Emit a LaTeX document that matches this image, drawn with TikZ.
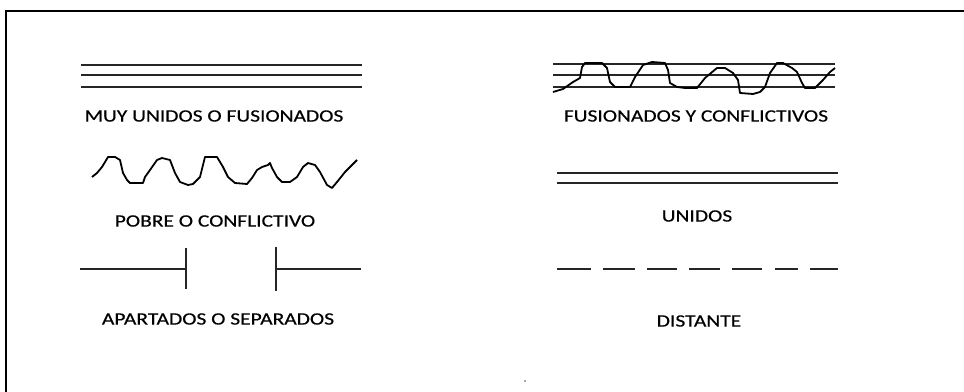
\documentclass[tikz,border=0pt]{standalone}
\usepackage{fontspec}
\setmainfont{Carlito}
\newfontfamily\lblfont{Carlito}[FakeBold=0.4]
\newcommand{\wlbl}[1]{\scalebox{1.24}[1]{#1}}
\begin{document}
\begin{tikzpicture}[x=0.75pt,y=-0.75pt,
  lbl/.style={font=\lblfont\fontsize{13}{15}\selectfont, text=black, inner sep=0pt},
  rel/.style={line width=1.1pt, draw=black!85},
  wave/.style={line width=1.35pt, draw=black, line join=round}]
\useasboundingbox (0,0) rectangle (964,392);
\fill[white] (0,0) rectangle (964,392);
% frame
\draw[line width=1.3pt] (6,392) -- (6,11) -- (964,11);

% MUY UNIDOS O FUSIONADOS
\draw[rel] (81,65) -- (362,65);
\draw[rel] (81,75) -- (362,75);
\draw[rel] (81,87) -- (362,87);
\node[lbl] (muy) at (214,116) {\wlbl{MUY UNIDOS O FUSIONADOS}};

% FUSIONADOS Y CONFLICTIVOS
\draw[rel] (553,64) -- (835,64);
\draw[rel] (553,75) -- (835,75);
\draw[rel] (553,87) -- (835,87);
\draw[wave] (553,92) -- (563,89) -- (573,82) -- (580,78) -- (582,67) -- (585,63) -- (602,63) -- (607,68) -- (610,82) -- (615,87) -- (630,87) -- (635,77) -- (643,65) -- (652,62) -- (665,63) -- (668,70) -- (670,83) -- (677,87) -- (685,88) -- (697,88) -- (705,78) -- (717,68) -- (725,68) -- (733,73) -- (738,80) -- (740,93) -- (753,94) -- (760,92) -- (765,87) -- (770,73) -- (777,63) -- (783,63) -- (792,68) -- (797,72) -- (802,83) -- (805,88) -- (815,88) -- (823,80) -- (830,72) -- (835,68);
\node[lbl] (fus) at (696,116) {\wlbl{FUSIONADOS Y CONFLICTIVOS}};

% POBRE O CONFLICTIVO
\draw[wave] (92,177) -- (97,173) -- (102,167) -- (108,157) -- (115,157) -- (120,160) -- (123,173) -- (127,180) -- (130,183) -- (143,183) -- (145,177) -- (150,170) -- (157,160) -- (162,158) -- (170,160) -- (175,173) -- (180,182) -- (188,185) -- (193,184) -- (200,177) -- (205,157) -- (217,157) -- (223,167) -- (228,177) -- (235,183) -- (247,184) -- (252,178) -- (257,170) -- (262,167) -- (268,165) -- (270,163) -- (272,168) -- (277,177) -- (282,182) -- (290,182) -- (297,177) -- (303,167) -- (308,163) -- (315,165) -- (320,172) -- (327,185) -- (332,188) -- (337,182) -- (345,172) -- (357,160);
\node[lbl] (pob) at (215,221) {\wlbl{POBRE O CONFLICTIVO}};

% UNIDOS
\draw[rel] (557,173) -- (838,173);
\draw[rel] (557,183) -- (838,183);
\node[lbl] (uni) at (697,216) {\wlbl{UNIDOS}};

% APARTADOS O SEPARADOS
\draw[rel] (80,269) -- (186,269);
\draw[rel] (186,248) -- (186,289);
\draw[rel] (276,247) -- (276,291);
\draw[rel] (276,269) -- (361,269);
\node[lbl] (apa) at (218,319) {\wlbl{APARTADOS O SEPARADOS}};

% DISTANTE
\foreach \a/\b in {557/591,603/635,647/677,689/720,732/762,775/798,810/838}
  \draw[rel] (\a,269) -- (\b,269);
\node[lbl] (dis) at (699,321) {\wlbl{DISTANTE}};

\fill[black!70] (525,381) circle (0.8);
\end{tikzpicture}
\end{document}
